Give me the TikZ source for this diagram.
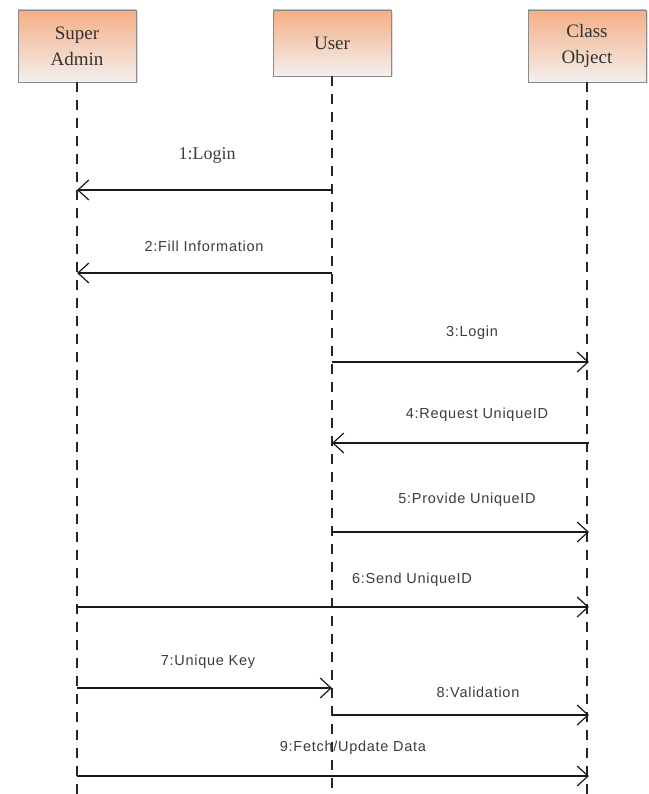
\documentclass[tikz,border=0pt]{standalone}
\usepackage{fontspec}
\setmainfont{Liberation Serif}
\newfontfamily\lblfont[LetterSpace=5]{Liberation Sans}
\usetikzlibrary{arrows.meta,shadows}
\definecolor{boxtop}{HTML}{F5AE85}
\definecolor{boxbot}{HTML}{F3F0EE}
\definecolor{boxline}{HTML}{8A8A8A}
\definecolor{txtcol}{HTML}{3C3C3C}
\tikzset{
  actor/.style={draw=boxline, line width=0.9pt, top color=boxtop, bottom color=boxbot,
    minimum width=118pt, align=center, font=\fontsize{19}{26}\selectfont, text=black!80,
    drop shadow={shadow xshift=1.5pt, shadow yshift=-1.5pt, opacity=0.25}},
  lifeline/.style={draw=black!85, line width=1.2pt, dash pattern=on 10pt off 8pt},
  msg/.style={draw=black!90, line width=1.3pt, -{Straight Barb[length=11pt,width=20pt,line width=1.2pt]}},
  lbl/.style={text=txtcol, font=\lblfont\fontsize{14.5}{16}\selectfont, inner sep=0pt},
  lblserif/.style={text=txtcol, font=\fontsize{18}{20}\selectfont, inner sep=0pt}
}
\begin{document}
\begin{tikzpicture}[x=1pt,y=-1pt]
\useasboundingbox (0,0) rectangle (648,794);
% actors
\node[actor, minimum height=72pt] (admin) at (77,46) {Super\\Admin};
\node[actor, minimum height=66pt] (user) at (332,43) {User};
\node[actor, minimum height=72pt] (cls) at (587,46) {Class\\Object};
% lifeline ends
\coordinate (adminEnd) at (77,794);
\coordinate (userEnd) at (332,794);
\coordinate (clsEnd) at (587,794);
\draw[lifeline] (admin.south) -- (adminEnd);
\draw[lifeline] (user.south) -- (userEnd);
\draw[lifeline] (cls.south) -- (clsEnd);
% message endpoints
\foreach \n/\y in {1/190,2/273,3/362,4/443,5/532,6/607,7/688,8/715,9/776}{
  \coordinate (a\n) at (77,\y);
  \coordinate (u\n) at (332,\y);
  \coordinate (c\n) at (589,\y);
}
% messages
\draw[msg] (u1) -- (a1);
\draw[msg] (u2) -- (a2);
\draw[msg] (u3) -- (c3);
\draw[msg] (c4) -- (u4);
\draw[msg] (u5) -- (c5);
\draw[msg] (a6) -- (c6);
\draw[msg] (a7) -- (u7);
\draw[msg] (u8) -- (c8);
\draw[msg] (a9) -- (c9);
% labels
\node[lblserif] (l1) at (207,155) {1:Login};
\node[lbl] (l2) at (204,246) {2:Fill Information};
\node[lbl] (l3) at (472,333) {3:Login};
\node[lbl] (l4) at (477,415) {4:Request UniqueID};
\node[lbl] (l5) at (467,500) {5:Provide UniqueID};
\node[lbl] (l6) at (412,580) {6:Send UniqueID};
\node[lbl] (l7) at (208,662) {7:Unique Key};
\node[lbl] (l8) at (478,692) {8:Validation};
\node[lbl] (l9) at (353,748) {9:Fetch/Update Data};
\end{tikzpicture}
\end{document}
